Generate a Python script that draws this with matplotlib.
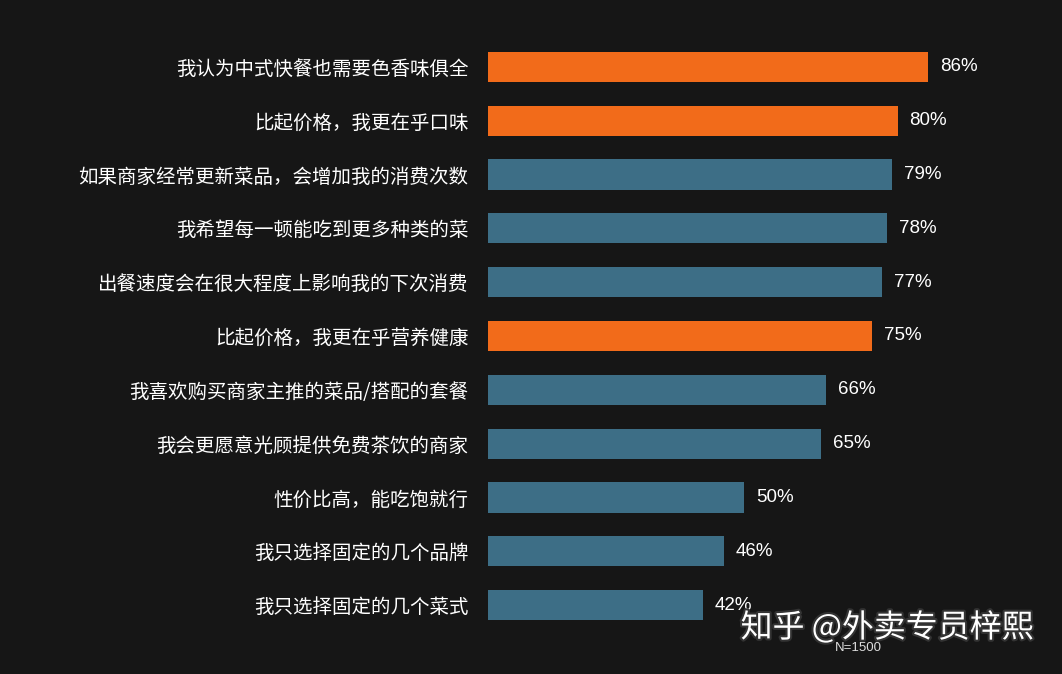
import matplotlib.pyplot as plt
import matplotlib.patheffects as pe

plt.rcParams['font.family'] = ['Noto Sans CJK SC', 'DejaVu Sans']

# survey statements, top to bottom
labels = [
    '我认为中式快餐也需要色香味俱全',
    '比起价格，我更在乎口味',
    '如果商家经常更新菜品，会增加我的消费次数',
    '我希望每一顿能吃到更多种类的菜',
    '出餐速度会在很大程度上影响我的下次消费',
    '比起价格，我更在乎营养健康',
    '我喜欢购买商家主推的菜品/搭配的套餐',
    '我会更愿意光顾提供免费茶饮的商家',
    '性价比高，能吃饱就行',
    '我只选择固定的几个品牌',
    '我只选择固定的几个菜式',
]
values = [86, 80, 79, 78, 77, 75, 66, 65, 50, 46, 42]
highlight = [True, True, False, False, False, True, False, False, False, False, False]

bg = '#161616'
orange = '#F26B1A'
blue = '#3D6E86'

fig = plt.figure(figsize=(10.62, 6.74), dpi=100)
fig.patch.set_facecolor(bg)
ax = fig.add_axes([488 / 1062, 1 - 632 / 674, 512 / 1062, (632 - 40) / 674])
ax.set_facecolor(bg)

colors = [orange if h else blue for h in highlight]
ypos = list(range(len(values)))
ax.barh(ypos, values, height=0.56, color=colors)

for y, v in zip(ypos, values):
    ax.text(v + 2.3, y, f'{v}%', va='center', ha='left', color='white',
            fontsize=13.5, family='Liberation Sans')

ax.set_xlim(0, 100)
ax.set_ylim(len(values) - 0.5, -0.5)
ax.set_yticks(ypos)
ax.set_yticklabels(labels, color='white', fontsize=14)
ax.tick_params(axis='y', length=0, pad=14)
ax.set_xticks([])
for s in ax.spines.values():
    s.set_visible(False)

fig.text(858 / 1062, 1 - 648 / 674, 'N=1500', color='#dddddd', fontsize=9.5,
         ha='center', va='center', family='Liberation Sans')
fig.text(1034 / 1062, 1 - 628 / 674, '知乎 @外卖专员梓熙', color='white',
         fontsize=23, ha='right', va='center',
         path_effects=[pe.withStroke(linewidth=3, foreground='#333333')])

fig.savefig('out.png', dpi=100, facecolor=bg)
